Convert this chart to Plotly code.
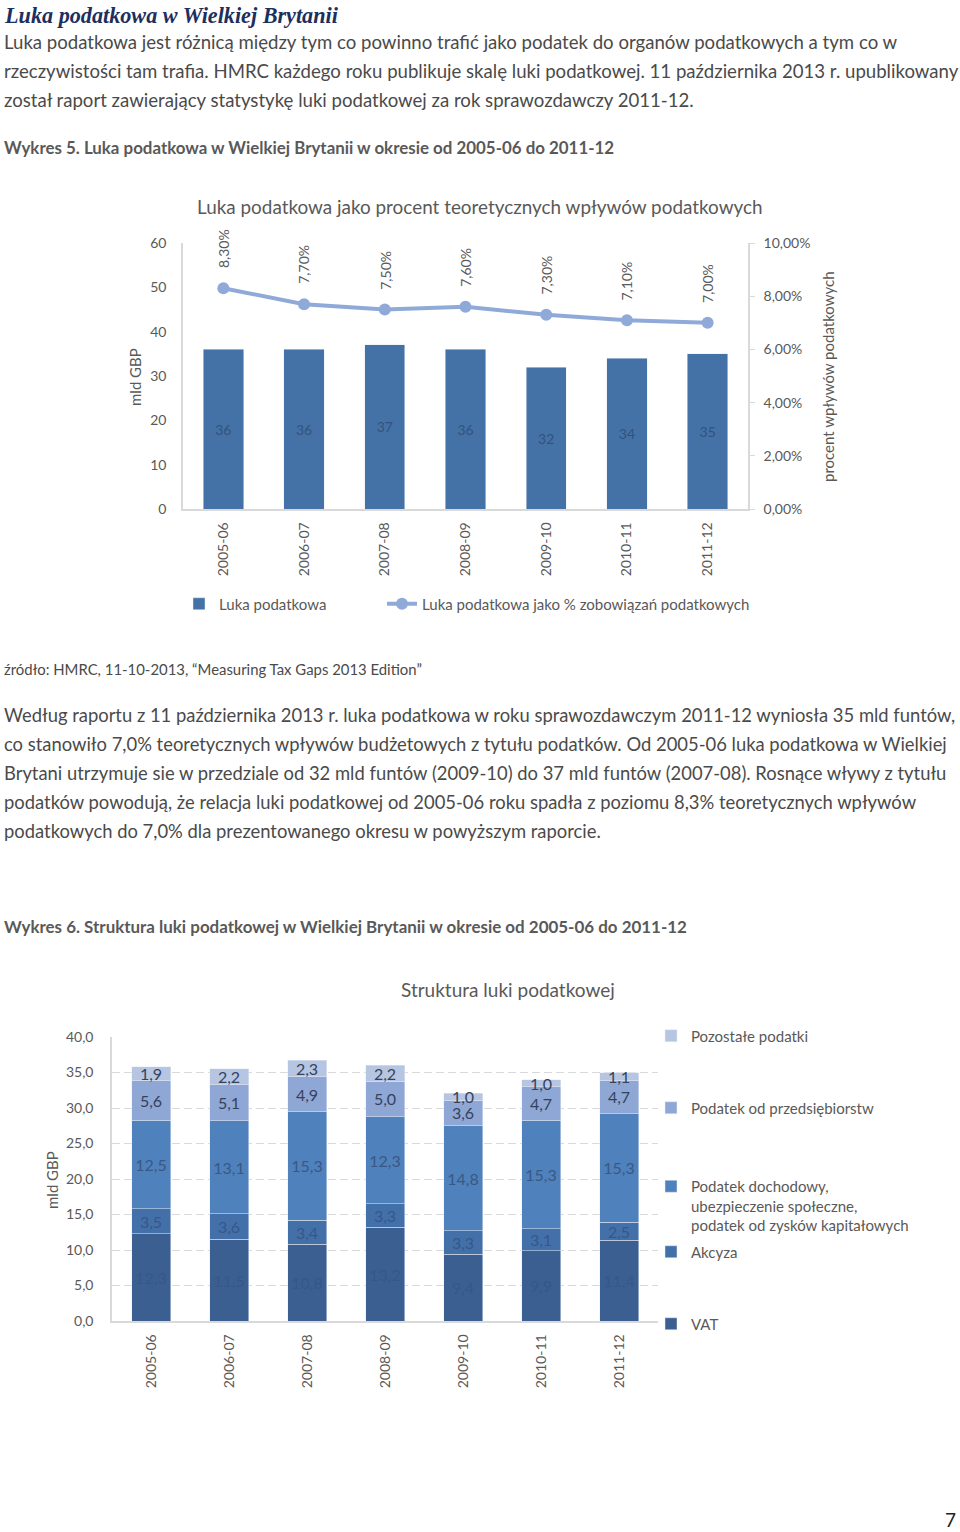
import plotly.graph_objects as go

# --- data ---
years = ["2005-06", "2006-07", "2007-08", "2008-09", "2009-10", "2010-11", "2011-12"]
tax_gap = [36, 36, 37, 36, 32, 34, 35]
gap_pct = [0.083, 0.077, 0.075, 0.076, 0.073, 0.071, 0.070]

vat = [12.3, 11.5, 10.8, 13.2, 9.4, 9.9, 11.4]
akcyza = [3.5, 3.6, 3.4, 3.3, 3.3, 3.1, 2.5]
dochodowy = [12.5, 13.1, 15.3, 12.3, 14.8, 15.3, 15.3]
przedsiebiorstw = [5.6, 5.1, 4.9, 5.0, 3.6, 4.7, 4.7]
pozostale = [1.9, 2.2, 2.3, 2.2, 1.0, 1.0, 1.1]

W, H = 960, 1532
GRAY = "#595959"
TXT = "#4a4a4a"
FONT = "Lato"


def xp(px):
    return px / W


def yp(py):
    return 1 - py / H


fig = go.Figure()

# ---- Wykres 5 ----
fig.add_trace(go.Bar(
    x=years, y=tax_gap, name="Luka podatkowa", marker_color="#4472a6",
    texttemplate="%{y}", textposition="inside", insidetextanchor="middle",
    textangle=0, constraintext="none", textfont=dict(size=14, color="#33527d", family=FONT),
    xaxis="x", yaxis="y", legend="legend", hoverinfo="skip",
))
fig.add_trace(go.Scatter(
    x=years, y=gap_pct, name="Luka podatkowa jako % zobowiązań podatkowych",
    mode="lines+markers", line=dict(color="#8faad8", width=4),
    marker=dict(size=12, color="#8faad8"),
    xaxis="x", yaxis="y2", legend="legend2", hoverinfo="skip",
))

# ---- Wykres 6 ----
stack = [
    ("VAT", vat, "#3b5f90", "#37578a", "legend7"),
    ("Akcyza", akcyza, "#4370a8", "#37578a", "legend6"),
    ("Podatek dochodowy,<br>ubezpieczenie społeczne,<br>podatek od zysków kapitałowych",
     dochodowy, "#4f81bd", "#3a5883", "legend5"),
    ("Podatek od przedsiębiorstw", przedsiebiorstw, "#8fa7d4", "#34425e", "legend4"),
    ("Pozostałe podatki", pozostale, "#b6c5e2", "#34425e", "legend3"),
]
for name, vals, col, tcol, lg in stack:
    fig.add_trace(go.Bar(
        x=years, y=vals, name=name, marker_color=col,
        texttemplate="%{y:.1f}", textposition="inside", insidetextanchor="middle",
        textangle=0, constraintext="none", textfont=dict(size=16, color=tcol, family=FONT),
        xaxis="x2", yaxis="y3", legend=lg, hoverinfo="skip",
    ))

# rotated percentage labels above the line points
ann = []
for yr, v in zip(years, gap_pct):
    ann.append(dict(
        x=yr, y=v, xref="x", yref="y2", text=f"{v * 100:.2f}%".replace(".", ","),
        textangle=-90, showarrow=False, yanchor="bottom", yshift=18,
        font=dict(size=14, color=GRAY, family=FONT),
    ))


def text(px, py, s, size, color=TXT, anchor="left", family=FONT, angle=0):
    ann.append(dict(
        x=xp(px), y=yp(py), xref="paper", yref="paper", text=s, showarrow=False,
        xanchor=anchor, yanchor="middle", textangle=angle,
        font=dict(size=size, color=color, family=family),
    ))


text(2, 15, "<b><i>Luka podatkowa w Wielkiej Brytanii</i></b>", 22.2, "#1c2f5e", family="Liberation Serif")
para1 = [
    "Luka podatkowa jest różnicą między tym co powinno trafić jako podatek do organów podatkowych a tym co w",
    "rzeczywistości tam trafia. HMRC każdego roku publikuje skalę luki podatkowej. 11 października 2013 r. upublikowany",
    "został raport zawierający statystykę luki podatkowej za rok sprawozdawczy 2011-12.",
]
for i, line in enumerate(para1):
    text(2, 42 + i * 29, line, 18.6)
text(2, 147, "<b>Wykres 5. Luka podatkowa w Wielkiej Brytanii w okresie od 2005-06 do 2011-12</b>", 16.9, GRAY)
text(480, 207, "Luka podatkowa jako procent teoretycznych wpływów podatkowych", 18.9, GRAY, anchor="center")
text(135, 377, "mld GBP", 15, GRAY, anchor="center", angle=-90)
text(828, 377, "procent wpływów podatkowych", 15, GRAY, anchor="center", angle=-90)
text(2, 669, "źródło: HMRC, 11-10-2013, “Measuring Tax Gaps 2013 Edition”", 14.9, TXT)
para2 = [
    "Według raportu z 11 października 2013 r. luka podatkowa w roku sprawozdawczym 2011-12 wyniosła 35 mld funtów,",
    "co stanowiło 7,0% teoretycznych wpływów budżetowych z tytułu podatków. Od 2005-06 luka podatkowa w Wielkiej",
    "Brytani utrzymuje sie w przedziale od 32 mld funtów (2009-10) do 37 mld funtów (2007-08). Rosnące wływy z tytułu",
    "podatków powodują, że relacja luki podatkowej od 2005-06 roku spadła z poziomu 8,3% teoretycznych wpływów",
    "podatkowych do 7,0% dla prezentowanego okresu w powyższym raporcie.",
]
for i, line in enumerate(para2):
    text(2, 715 + i * 29, line, 18.4)
text(2, 926, "<b>Wykres 6. Struktura luki podatkowej w Wielkiej Brytanii w okresie od 2005-06 do 2011-12</b>", 16.95, GRAY)
text(508, 990, "Struktura luki podatkowej", 19, GRAY, anchor="center")
text(52, 1180, "mld GBP", 15, GRAY, anchor="center", angle=-90)
text(950, 1519, "7", 19, "#222222", anchor="center")

axis_line = "#d9d9d9"
tick_font = dict(size=14, color=GRAY, family=FONT)
leg_font = dict(size=15, color=GRAY, family=FONT)


def leg(px, py, valign="middle", yanchor="middle"):
    return dict(x=xp(px), y=yp(py), xanchor="left", yanchor=yanchor, orientation="h",
                bgcolor="rgba(0,0,0,0)", font=leg_font, valign=valign)


fig.update_layout(
    width=W, height=H, margin=dict(l=0, r=0, t=0, b=0, autoexpand=False),
    paper_bgcolor="white", plot_bgcolor="white", showlegend=True,
    separators=", ", barmode="stack", bargap=0.5,
    font=dict(family=FONT, color=GRAY),
    annotations=ann,
    xaxis=dict(domain=[xp(183), xp(748)], anchor="y", type="category", automargin=False,
               showline=True, linecolor=axis_line, linewidth=1.5, tickangle=-90,
               tickfont=tick_font, ticks="", showgrid=False, ticklabelstandoff=6),
    yaxis=dict(domain=[yp(509), yp(243)], anchor="x", range=[0, 60], dtick=10, automargin=False,
               showline=True, linecolor=axis_line, linewidth=1.5, showgrid=False,
               zeroline=False, tickfont=tick_font, ticklabelstandoff=12),
    yaxis2=dict(overlaying="y", side="right", anchor="x", range=[0, 0.10], dtick=0.02,
                tickformat=".2%", showline=True, linecolor=axis_line, linewidth=1.5, automargin=False,
                ticks="outside", ticklen=5, tickcolor=axis_line, showgrid=False,
                zeroline=False, tickfont=tick_font, ticklabelstandoff=6),
    xaxis2=dict(domain=[xp(112), xp(658)], anchor="y3", type="category", automargin=False,
                showline=True, linecolor=axis_line, linewidth=1.5, tickangle=-90,
                tickfont=tick_font, ticks="", showgrid=False, ticklabelstandoff=6),
    yaxis3=dict(domain=[yp(1321), yp(1037)], anchor="x2", range=[0, 40], dtick=5, automargin=False,
                tickformat=".1f", showline=True, linecolor=axis_line, linewidth=1.5,
                showgrid=True, gridcolor="#d9d9d9", griddash="8px,4px", zeroline=False,
                tickfont=tick_font, ticklabelstandoff=14),
    legend=leg(179, 604),
    legend2=leg(382, 604),
    legend3=leg(651, 1036),
    legend4=leg(651, 1108),
    legend5=leg(651, 1170, valign="top", yanchor="top"),
    legend6=leg(651, 1252),
    legend7=leg(651, 1324),
)

# the page body keeps its default margin otherwise, which shifts everything
fig.write_html("out.html", config={"displayModeBar": False},
               post_script="document.body.style.margin='0';")
